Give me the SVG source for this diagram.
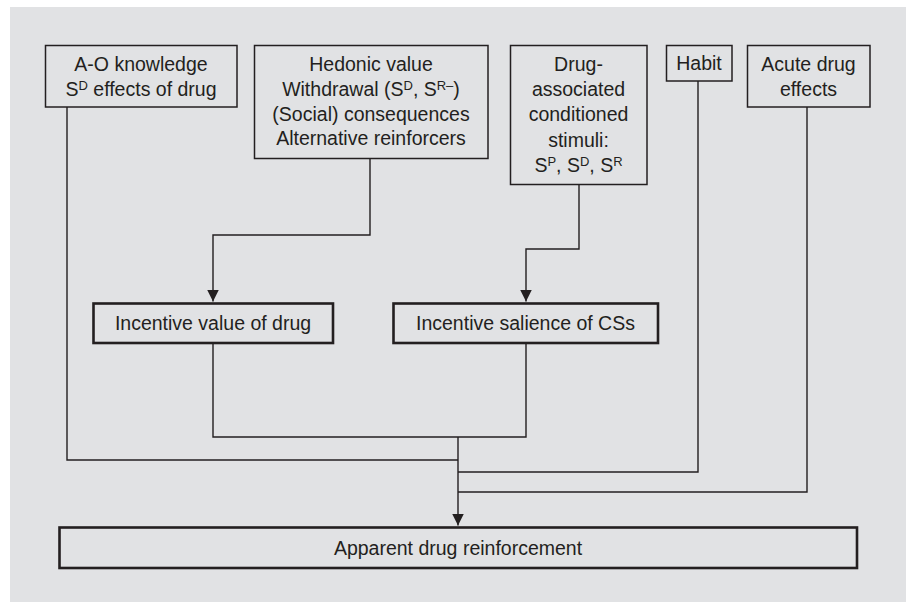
<svg xmlns="http://www.w3.org/2000/svg" width="906" height="602" viewBox="0 0 906 602">
<style>
.bg{fill:#ffffff}
.panel{fill:#e1e2e4}
.box{fill:none;stroke:#231f20;stroke-width:1.5}
.tbox{fill:none;stroke:#231f20;stroke-width:2.6}
.t{font-family:"Liberation Sans","Noto Sans",Arial,sans-serif;font-size:19.5px;fill:#231f20;text-anchor:middle}
.sup{font-size:13px}
.c{fill:none;stroke:#231f20;stroke-width:1.4}
</style>
<defs>
<marker id="arr" markerUnits="userSpaceOnUse" viewBox="0 0 12 12" markerWidth="12" markerHeight="12" refX="12" refY="6" orient="auto">
<path d="M0,0 L12,6 L0,12 Z" fill="#231f20"/>
</marker>
</defs>
<rect class="bg" x="0" y="0" width="906" height="602"/>
<rect class="panel" x="10" y="7" width="896" height="595"/>

<g id="connectors">
<path class="c" d="M67,107 V460 H458"/>
<path class="c" d="M370,159 V235 H213 V301.5" marker-end="url(#arr)"/>
<path class="c" d="M579,185 V249 H526 V301.5" marker-end="url(#arr)"/>
<path class="c" d="M213,343 V437 H526 V343"/>
<path class="c" d="M458,437 V525.5" marker-end="url(#arr)"/>
<path class="c" d="M698,81 V472 H458"/>
<path class="c" d="M807,107 V492 H458"/>
</g>

<g id="ao">
<rect class="box" x="45.5" y="45.5" width="191.5" height="61.5"/>
<text class="t" x="141" y="71">A-O knowledge</text>
<text class="t" x="141" y="96">S<tspan class="sup" dy="-6">D</tspan><tspan dy="6"> effects of drug</tspan></text>
</g>

<g id="hedonic">
<rect class="box" x="254.5" y="45.5" width="233.5" height="113"/>
<text class="t" x="371" y="71">Hedonic value</text>
<text class="t" x="371" y="96">Withdrawal (S<tspan class="sup" dy="-6">D</tspan><tspan dy="6">, S</tspan><tspan class="sup" dy="-6">R–</tspan><tspan dy="6">)</tspan></text>
<text class="t" x="371" y="120.5">(Social) consequences</text>
<text class="t" x="371" y="145">Alternative reinforcers</text>
</g>

<g id="drugcs">
<rect class="box" x="510.5" y="45.5" width="136.5" height="139"/>
<text class="t" x="578.5" y="71">Drug-</text>
<text class="t" x="578.5" y="96">associated</text>
<text class="t" x="578.5" y="121">conditioned</text>
<text class="t" x="578.5" y="146.5">stimuli:</text>
<text class="t" x="578.5" y="171.5">S<tspan class="sup" dy="-6">P</tspan><tspan dy="6">, S</tspan><tspan class="sup" dy="-6">D</tspan><tspan dy="6">, S</tspan><tspan class="sup" dy="-6">R</tspan></text>
</g>

<g id="habit">
<rect class="box" x="666.5" y="45.5" width="65.5" height="35.5"/>
<text class="t" x="699" y="70">Habit</text>
</g>

<g id="acute">
<rect class="box" x="747.5" y="45.5" width="122.5" height="61.5"/>
<text class="t" x="808.5" y="70.5">Acute drug</text>
<text class="t" x="808.5" y="95.5">effects</text>
</g>

<g id="incvalue">
<rect class="tbox" x="93.5" y="303.5" width="239.5" height="39.5"/>
<text class="t" x="213" y="330">Incentive value of drug</text>
</g>

<g id="incsalience">
<rect class="tbox" x="393.5" y="303.5" width="264.5" height="39.5"/>
<text class="t" x="525.5" y="330">Incentive salience of CSs</text>
</g>

<g id="apparent">
<rect class="tbox" x="59.5" y="527.5" width="797.5" height="40.5"/>
<text class="t" x="458" y="555">Apparent drug reinforcement</text>
</g>
</svg>
